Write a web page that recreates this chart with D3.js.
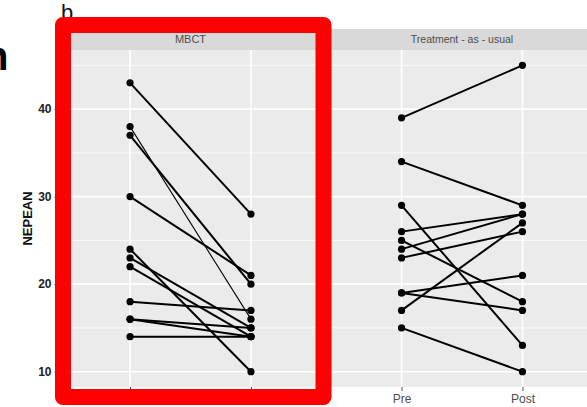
<!DOCTYPE html>
<html lang="en">
<head>
    <meta charset="UTF-8">
    <title>NEPEAN pre/post by group</title>
    <style>
        body { margin: 0; background: #fff; }
        svg { display: block; font-family: "Liberation Sans", Arial, sans-serif; }
    </style>
</head>
<body>
    <div id="chart"></div>
    <script src="https://cdn.jsdelivr.net/npm/d3@7"></script>
    <script>
        // data
        const conditions = ["Pre", "Post"];
        const groups = ["MBCT", "Treatment - as - usual"];
        const mbctPre  = [43, 38, 37, 30, 24, 23, 22, 18, 16, 16, 14];
        const mbctPost = [28, 16, 20, 21, 10, 15, 14, 17, 15, 14, 14];
        const tauPre   = [39, 34, 29, 26, 25, 24, 23, 19, 19, 17, 15];
        const tauPost  = [45, 29, 13, 28, 18, 28, 26, 21, 17, 27, 10];
        const yTicks = [10, 20, 30, 40];
        const yMinor = [15, 25, 35, 45];
        const yLabel = "NEPEAN";

        const width = 587, height = 407;
        const panelTop = 50, panelBottom = 387;
        const stripTop = 29;
        const panels = [
            { name: groups[0], x0: 57.5, x1: 323.5, pre: mbctPre, post: mbctPost },
            { name: groups[1], x0: 329, x1: 595, pre: tauPre, post: tauPost }
        ];

        const allVals = mbctPre.concat(mbctPost, tauPre, tauPost);
        const [lo, hi] = d3.extent(allVals);
        const pad = (hi - lo) * 0.05;
        const y = d3.scaleLinear()
            .domain([lo - pad, hi + pad])
            .range([panelBottom, panelTop]);

        const svg = d3.select("#chart").append("svg")
            .attr("width", width)
            .attr("height", height);

        // stray figure letters that were cropped in the source
        svg.append("text")
            .attr("x", -16).attr("y", 70)
            .attr("font-size", 40)
            .attr("font-weight", "bold")
            .attr("fill", "#000")
            .text("n");
        svg.append("text")
            .attr("x", 61).attr("y", 20)
            .attr("font-size", 22)
            .attr("fill", "#111")
            .text("b");

        panels.forEach((p, gi) => {
            const x = d3.scalePoint()
                .domain(conditions)
                .range([p.x0, p.x1])
                .padding(0.6);
            const g = svg.append("g");

            // strip
            g.append("rect")
                .attr("x", p.x0).attr("y", stripTop)
                .attr("width", p.x1 - p.x0).attr("height", panelTop - stripTop)
                .attr("fill", "#d9d9d9");
            g.append("text")
                .attr("x", (p.x0 + p.x1) / 2).attr("y", (stripTop + panelTop) / 2)
                .attr("dy", "0.35em")
                .attr("text-anchor", "middle")
                .attr("font-size", gi === 0 ? 11 : 10.5)
                .attr("fill", "#4d4d4d")
                .text(p.name);

            // panel background + grid
            g.append("rect")
                .attr("x", p.x0).attr("y", panelTop)
                .attr("width", p.x1 - p.x0).attr("height", panelBottom - panelTop)
                .attr("fill", "#ebebeb");
            g.selectAll(".minor").data(yMinor).join("line")
                .attr("x1", p.x0).attr("x2", p.x1)
                .attr("y1", d => y(d)).attr("y2", d => y(d))
                .attr("stroke", "#fff").attr("stroke-width", 0.8);
            g.selectAll(".major").data(yTicks).join("line")
                .attr("x1", p.x0).attr("x2", p.x1)
                .attr("y1", d => y(d)).attr("y2", d => y(d))
                .attr("stroke", "#fff").attr("stroke-width", 1.6);
            g.selectAll(".vmajor").data(conditions).join("line")
                .attr("x1", d => x(d)).attr("x2", d => x(d))
                .attr("y1", panelTop).attr("y2", panelBottom)
                .attr("stroke", "#fff").attr("stroke-width", 1.6);

            // bottom axis
            const xAxis = g.append("g")
                .attr("transform", `translate(0,${panelBottom})`)
                .call(d3.axisBottom(x).tickSize(4).tickPadding(3));
            xAxis.select(".domain").remove();
            xAxis.selectAll(".tick line").attr("stroke", "#4d4d4d");
            xAxis.selectAll(".tick text")
                .attr("font-size", 12)
                .attr("font-family", "Liberation Sans, Arial, sans-serif")
                .attr("fill", "#4d4d4d");

            // subject lines and points
            const pairs = p.pre.map((v, i) => ({ i, pre: v, post: p.post[i] }));
            g.selectAll(".subj").data(pairs).join("line")
                .attr("x1", x("Pre")).attr("x2", x("Post"))
                .attr("y1", d => y(d.pre)).attr("y2", d => y(d.post))
                .attr("stroke", "#000")
                // one MBCT line is drawn thinner in the source
                .attr("stroke-width", d => (gi === 0 && d.i === 1) ? 1.1 : 2);
            const pts = pairs.flatMap(d => [
                { c: "Pre", v: d.pre }, { c: "Post", v: d.post }
            ]);
            g.selectAll(".pt").data(pts).join("circle")
                .attr("cx", d => x(d.c)).attr("cy", d => y(d.v))
                .attr("r", 3.6)
                .attr("fill", "#000");
        });

        // left axis
        const yAxis = svg.append("g")
            .attr("transform", `translate(${panels[0].x0},0)`)
            .call(d3.axisLeft(y).tickValues(yTicks).tickSize(3).tickPadding(3));
        yAxis.select(".domain").remove();
        yAxis.selectAll(".tick line").attr("stroke", "#333");
        yAxis.selectAll(".tick text")
            .attr("font-size", 12)
            .attr("font-weight", "bold")
            .attr("font-family", "Liberation Sans, Arial, sans-serif")
            .attr("fill", "#222");

        svg.append("text")
            .attr("transform", `translate(32,${(panelTop + panelBottom) / 2}) rotate(-90)`)
            .attr("text-anchor", "middle")
            .attr("font-size", 13)
            .attr("font-weight", "bold")
            .attr("fill", "#111")
            .text(yLabel);

        // red highlight box over the MBCT panel
        svg.append("rect")
            .attr("x", 63).attr("y", 25)
            .attr("width", 260.5).attr("height", 372)
            .attr("fill", "none")
            .attr("stroke", "#ff0000")
            .attr("stroke-width", 16)
            .attr("stroke-linejoin", "round");
    </script>
</body>
</html>
